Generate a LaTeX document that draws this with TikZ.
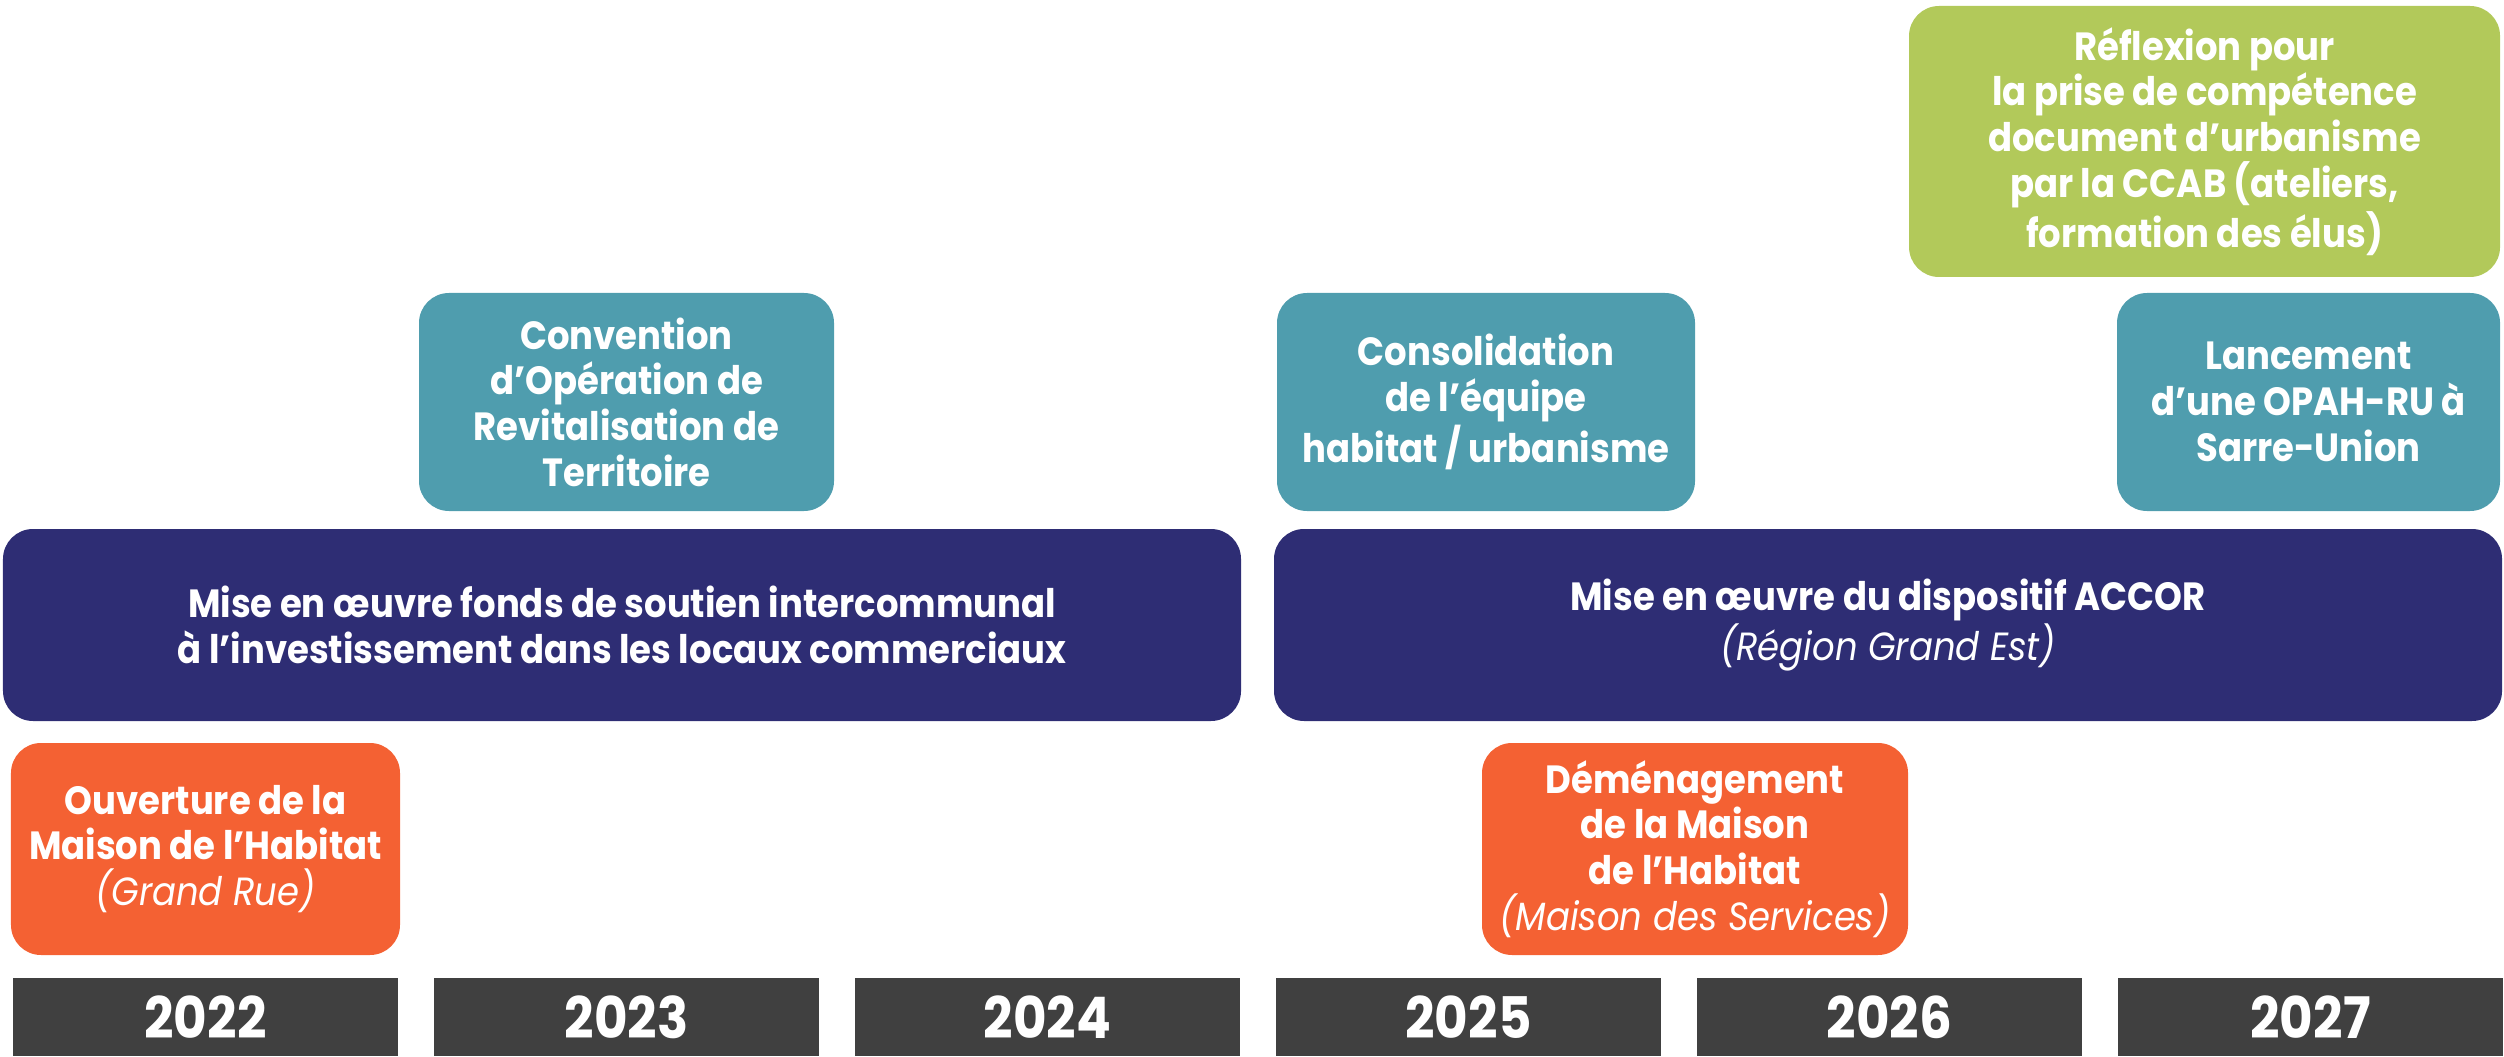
\documentclass[tikz,border=0pt]{standalone}
\usepackage{fontspec}
\setmainfont{Poppins}[FakeStretch=0.9]
\usepackage{tikz}
\usetikzlibrary{positioning}
\definecolor{tealbox}{HTML}{4F9DAE}
\definecolor{navybox}{HTML}{2E2D74}
\definecolor{orangebox}{HTML}{F46133}
\definecolor{greenbox}{HTML}{B2C95A}
\definecolor{yeargray}{HTML}{404040}

\begin{document}
\begin{tikzpicture}[
  box/.style={rounded corners=0.3cm, align=center, text=white, inner sep=0pt,
    font=\fontsize{11.2}{13}\selectfont\bfseries},
  yearbox/.style={fill=yeargray, text=white, minimum width=3.85cm, minimum height=0.78cm,
    inner sep=0pt, font=\fontsize{16.3}{20}\selectfont\bfseries}]
\useasboundingbox (0,0) rectangle (25.04,10.56);
% years
\foreach \yr [count=\i from 0] in {2022,2023,2024,2025,2026,2027}
  \node[yearbox] (y\yr) at ({2.055+4.21*\i},0.39) {\yr};
% long actions
\node[box, fill=navybox, minimum width=12.38cm, minimum height=1.92cm] (fonds) at (6.22,4.31)
  {Mise en œuvre fonds de soutien intercommunal\\à l’investissement dans les locaux commerciaux};
\node[box, fill=navybox, minimum width=12.28cm, minimum height=1.92cm] (accor) at (18.88,4.31)
  {Mise en œuvre du dispositif ACCOR\\{\mdseries\itshape (Région Grand Est)}};
% habitat
\node[box, fill=orangebox, minimum width=3.89cm, minimum height=2.12cm] (ouverture) at (2.055,2.07)
  {Ouverture de la\\Maison de l’Habitat\\{\mdseries\itshape (Grand Rue)}};
\node[box, fill=orangebox, minimum width=4.26cm, minimum height=2.12cm] (demenagement) at (16.95,2.07)
  {Déménagement\\de la Maison\\de l’Habitat\\{\mdseries\itshape (Maison des Services)}};
% upper row
\node[box, fill=tealbox, minimum width=4.15cm, minimum height=2.18cm] (convention) at (6.265,6.54)
  {Convention\\d’Opération de\\Revitalisation de\\Territoire};
\node[box, fill=tealbox, minimum width=4.18cm, minimum height=2.18cm] (consolidation) at (14.86,6.54)
  {Consolidation\\de l’équipe\\habitat / urbanisme};
\node[box, fill=tealbox, minimum width=3.83cm, minimum height=2.18cm] (lancement) at (23.085,6.54)
  {Lancement\\d’une OPAH-RU à\\Sarre-Union};
\node[box, fill=greenbox, minimum width=5.91cm, minimum height=2.71cm] (reflexion) at (22.045,9.145)
  {Réflexion pour\\la prise de compétence\\document d’urbanisme\\par la CCAB (ateliers,\\formation des élus)};
\end{tikzpicture}
\end{document}
